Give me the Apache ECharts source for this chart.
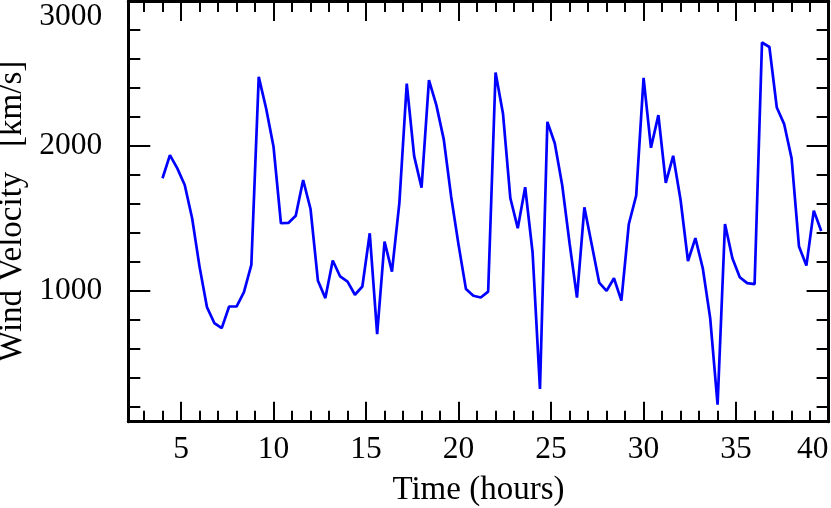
<!DOCTYPE html>
<html>
<head>
<meta charset="utf-8">
<script src="https://cdn.jsdelivr.net/npm/echarts@6/dist/echarts.min.js"></script>
<style>
  html, body { margin: 0; padding: 0; background: #fff; }
  #chart { width: 831px; height: 508px; }
</style>
</head>
<body>
<div id="chart"></div>
<script>
// time in hours
const hours = [
  4.0, 4.4, 4.8, 5.2, 5.6, 6.0, 6.4, 6.8, 7.2, 7.6,
  8.0, 8.4, 8.8, 9.2, 9.6, 10.0, 10.4, 10.8, 11.2, 11.6,
  12.0, 12.4, 12.8, 13.2, 13.6, 14.0, 14.4, 14.8, 15.2, 15.6,
  16.0, 16.4, 16.8, 17.2, 17.6, 18.0, 18.4, 18.8, 19.2, 19.6,
  20.0, 20.4, 20.8, 21.2, 21.6, 22.0, 22.4, 22.8, 23.2, 23.6,
  24.0, 24.4, 24.8, 25.2, 25.6, 26.0, 26.4, 26.8, 27.2, 27.6,
  28.0, 28.4, 28.8, 29.2, 29.6, 30.0, 30.4, 30.8, 31.2, 31.6,
  32.0, 32.4, 32.8, 33.2, 33.6, 34.0, 34.4, 34.8, 35.2, 35.6,
  36.0, 36.4, 36.8, 37.2, 37.6, 38.0, 38.4, 38.8, 39.2, 39.6
];
// wind velocity in km/s
const velocity = [
  1778, 1938, 1846, 1732, 1502, 1169, 890, 780, 745, 894,
  894, 993, 1181, 2477, 2259, 1995, 1468, 1470, 1520, 1766,
  1566, 1071, 952, 1211, 1101, 1066, 975, 1032, 1399, 704,
  1341, 1135, 1606, 2431, 1931, 1713, 2454, 2282, 2046, 1651,
  1319, 1014, 968, 956, 997, 2507, 2225, 1640, 1434, 1716,
  1268, 326, 2167, 2019, 1732, 1330, 956, 1578, 1319, 1059,
  1002, 1089, 935, 1461, 1658, 2470, 1988, 2213, 1747, 1933,
  1628, 1208, 1365, 1158, 814, 217, 1463, 1227, 1096, 1055,
  1048, 2714, 2683, 2266, 2151, 1915, 1307, 1176, 1555, 1415
];

const xMajorTicks = [5, 10, 15, 20, 25, 30, 35, 40];
const xMinorTicks = [3, 4, 6, 7, 8, 9, 11, 12, 13, 14, 16, 17, 18, 19, 21, 22, 23, 24,
  26, 27, 28, 29, 31, 32, 33, 34, 36, 37, 38, 39];
const yMajorTicks = [1000, 2000, 3000];
const yMinorTicks = [200, 400, 600, 800, 1200, 1400, 1600, 1800, 2200, 2400, 2600, 2800];

const X_MIN = 2.15, X_MAX = 40;
const Y_MIN = 100, Y_MAX = 3000;

const FONT = '"Liberation Serif", "Times New Roman", serif';

function xAxisDef(pos, ticks, len, main) {
  return {
    type: 'value', position: pos, min: X_MIN, max: X_MAX,
    axisLine: { show: main, lineStyle: { color: '#000', width: 3 } },
    axisTick: { show: true, inside: true, length: len, customValues: ticks,
      lineStyle: { color: '#000', width: 2 } },
    axisLabel: { show: false },
    splitLine: { show: false }
  };
}
function yAxisDef(pos, ticks, len, main) {
  return {
    type: 'value', position: pos, min: Y_MIN, max: Y_MAX,
    axisLine: { show: main, lineStyle: { color: '#000', width: 3 } },
    axisTick: { show: true, inside: true, length: len, customValues: ticks,
      lineStyle: { color: '#000', width: 2 } },
    axisLabel: { show: false },
    splitLine: { show: false }
  };
}

const xBottom = xAxisDef('bottom', xMajorTicks, 20, true);
xBottom.axisLabel = {
  show: true, customValues: xMajorTicks, margin: 12,
  color: '#000', fontFamily: FONT, fontSize: 31.5,
  formatter: v => String(v),
  alignMaxLabel: 'right'
};
xBottom.name = 'Time (hours)';
xBottom.nameLocation = 'middle';
xBottom.nameGap = 52;
xBottom.nameTextStyle = { color: '#000', fontFamily: FONT, fontSize: 33 };

const yLeft = yAxisDef('left', yMajorTicks, 22, true);
yLeft.axisLabel = {
  show: true, customValues: yMajorTicks, margin: 26,
  color: '#000', fontFamily: FONT, fontSize: 31.5,
  formatter: v => String(v),
  verticalAlignMaxLabel: 'top'
};
yLeft.name = 'Wind Velocity   [km/s]';
yLeft.nameLocation = 'middle';
yLeft.nameGap = 97;
yLeft.nameTextStyle = { color: '#000', fontFamily: FONT, fontSize: 33 };

const chart = echarts.init(document.getElementById('chart'));
chart.setOption({
  animation: false,
  backgroundColor: '#fff',
  grid: { left: 128.3, top: 1, width: 700.3, height: 420.7, containLabel: false, outerBoundsMode: 'none' },
  xAxis: [
    xBottom,
    xAxisDef('bottom', xMinorTicks, 11, false),
    xAxisDef('top', xMajorTicks, 20, true),
    xAxisDef('top', xMinorTicks, 11, false)
  ],
  yAxis: [
    yLeft,
    yAxisDef('left', yMinorTicks, 12, false),
    yAxisDef('right', yMajorTicks, 22, true),
    yAxisDef('right', yMinorTicks, 12, false)
  ],
  series: [{
    type: 'line',
    xAxisIndex: 0, yAxisIndex: 0,
    data: hours.map((h, i) => [h, velocity[i]]),
    showSymbol: false, symbol: 'none',
    lineStyle: { color: '#0000ff', width: 2.7 },
    clip: true
  }]
});
</script>
</body>
</html>
